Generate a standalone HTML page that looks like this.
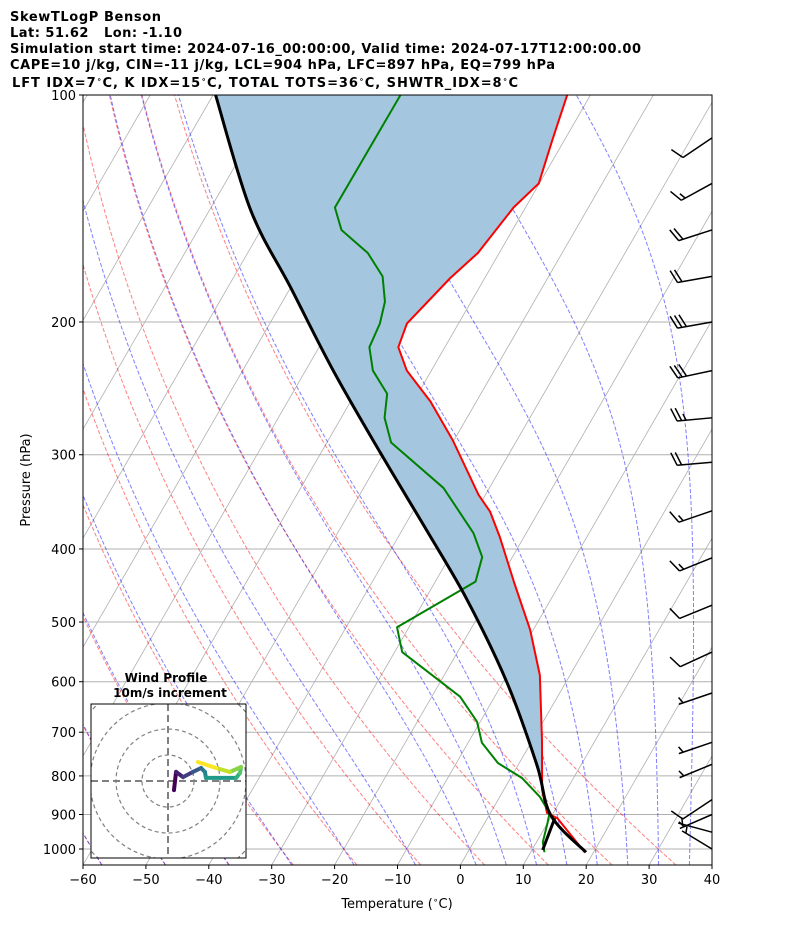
<!DOCTYPE html>
<html><head><meta charset="utf-8">
<style>
body{margin:0;background:#fff;}
svg{display:block;font-family:"DejaVu Sans","Liberation Sans",sans-serif;}
</style></head>
<body>
<svg id="chart" width="794" height="937" viewBox="0 0 794 937" xmlns="http://www.w3.org/2000/svg">
<defs>
<clipPath id="plotclip"><rect x="83" y="95" width="629" height="770"/></clipPath>
<clipPath id="hodoclip"><rect x="91" y="704" width="155" height="154"/></clipPath>
</defs>
<rect x="0" y="0" width="794" height="937" fill="#fff"/>
<g font-weight="bold" font-size="13" fill="#000">
<text x="10" y="21" textLength="151">SkewTLogP Benson</text>
<text x="10" y="37" textLength="172" xml:space="preserve">Lat: 51.62   Lon: -1.10</text>
<text x="10" y="53" textLength="631">Simulation start time: 2024-07-16_00:00:00, Valid time: 2024-07-17T12:00:00.00</text>
<text x="10" y="69" textLength="545">CAPE=10 j/kg, CIN=-11 j/kg, LCL=904 hPa, LFC=897 hPa, EQ=799 hPa</text>
<text x="12" y="87" textLength="506">LFT IDX=7<tspan font-size="8" dy="-5">∘</tspan><tspan dy="5">C, K IDX=15</tspan><tspan font-size="8" dy="-5">∘</tspan><tspan dy="5">C, TOTAL TOTS=36</tspan><tspan font-size="8" dy="-5">∘</tspan><tspan dy="5">C, SHWTR_IDX=8</tspan><tspan font-size="8" dy="-5">∘</tspan><tspan dy="5">C</tspan></text>
</g>
<g id="bg" clip-path="url(#plotclip)"></g>
<g id="fill" clip-path="url(#plotclip)"></g>
<g id="profiles" clip-path="url(#plotclip)"></g>
<g id="barbs"></g>
<rect x="83" y="95" width="629" height="770" fill="none" stroke="#000" stroke-width="1"/>
<g id="axes" font-size="13" fill="#000"></g>
<text x="0" y="0" transform="translate(30,480) rotate(-90)" text-anchor="middle" font-size="13">Pressure (hPa)</text>
<text x="397" y="908" text-anchor="middle" font-size="13">Temperature (<tspan font-size="9" dy="-5">∘</tspan><tspan dy="5">C)</tspan></text>
<g id="hodo">
<rect x="91" y="704" width="155" height="154" fill="#fff"/>
<text x="166" y="682" text-anchor="middle" font-size="12" font-weight="bold">Wind Profile</text>
<text x="170" y="697" text-anchor="middle" font-size="12" font-weight="bold">10m/s increment</text>
<g id="hodoinner" clip-path="url(#hodoclip)"></g>
<rect x="91" y="704" width="155" height="154" fill="none" stroke="#000" stroke-width="1"/>
</g>
</svg>
<script>
// ---- data ----
const tempP=[100,115,131,141,162,175,201,216,232,255,287,339,357,386,444,512,588,717,835,896,910,1010];
const tempT=[-53.7,-51.9,-50.1,-51.9,-53.4,-55.5,-58.2,-57.4,-53.9,-47.3,-40.2,-31.1,-27.7,-23.8,-17.3,-10.5,-4.8,1.5,6.1,9.0,11.1,18.6];
const dewP=[100,141,151,162,174,188,201,216,232,249,268,289,332,381,410,442,508,548,628,678,723,769,805,853,896,924,979,1010];
const dewT=[-80.2,-80.3,-77.2,-70.9,-66.4,-63.7,-62.5,-62.0,-59.3,-54.9,-53.1,-49.8,-37.3,-28.4,-24.8,-23.6,-31.9,-28.8,-15.5,-10.5,-7.8,-3.4,1.8,6.4,9.4,10.0,11.0,12.2];
const parcelP=[100,142,180,232,298,379,467,602,774,902,1010];
const parcelT=[-109.6,-93.5,-80.0,-65.6,-50.6,-35.9,-23.3,-9.3,3.0,9.8,18.8];
const lclP=[1003,910];
const lclT=[11.7,10.7];
const barbP=[114,131,151,174,200,232,268,307,356,411,475,548,621,722,772,860,900,950,1000];
const barbU=[8.3,13.1,19.0,19.7,29.5,29.3,24.9,19.9,14.2,13.9,9.3,9.1,4.7,4.7,4.6,8.3,4.6,4.8,4.3];
const barbV=[5.6,7.2,6.1,3.5,5.3,6.3,2.3,1.7,4.9,5.6,3.8,4.2,1.6,1.6,1.9,5.5,2.0,-1.3,-2.6];
const hodoU=[2.3,3.1,5.8,9.6,12.7,14.2,14.6,26.2,27.7,28.1,23.8,18.5,11.5];
const hodoV=[-3.5,3.5,1.5,3.5,5.0,3.5,1.2,1.2,3.1,5.4,3.5,5.0,7.3];
const xTicks=[-60,-50,-40,-30,-20,-10,0,10,20,30,40];
const pTicks=[100,200,300,400,500,600,700,800,900,1000];

// ---- axes ----
const X0=83,X1=712,Y0=95,Y1=865,TMIN=-60,TMAX=40;
const PXT=(X1-X0)/(TMAX-TMIN), SK=Math.tan(30*Math.PI/180), DEC=754;
const NS="http://www.w3.org/2000/svg";
function yP(p){return Y0+DEC*Math.log10(p/100);}
function xT(T,p){return X0+(T-TMIN)*PXT+(Y1-yP(p))*SK;}
function mk(tag,attrs,parent){const e=document.createElementNS(NS,tag);for(const k in attrs)e.setAttribute(k,attrs[k]);parent.appendChild(e);return e;}
function pathFrom(P,T){return P.map((p,i)=>(i?'L':'M')+xT(T[i],p).toFixed(2)+','+yP(p).toFixed(2)).join('');}
function smoothPath(P,T){const pts=P.map((p,i)=>[xT(T[i],p),yP(p)]);let d='M'+pts[0][0].toFixed(2)+','+pts[0][1].toFixed(2);
for(let i=0;i<pts.length-1;i++){const p0=pts[Math.max(i-1,0)],p1=pts[i],p2=pts[i+1],p3=pts[Math.min(i+2,pts.length-1)];
const c1=[p1[0]+(p2[0]-p0[0])/6,p1[1]+(p2[1]-p0[1])/6],c2=[p2[0]-(p3[0]-p1[0])/6,p2[1]-(p3[1]-p1[1])/6];
d+='C'+c1.map(v=>v.toFixed(2)).join(',')+' '+c2.map(v=>v.toFixed(2)).join(',')+' '+p2.map(v=>v.toFixed(2)).join(',');}return d;}

const bg=document.getElementById('bg');
pTicks.forEach(p=>{const l=mk('line',{x1:X0,x2:X1,y1:yP(p),y2:yP(p),stroke:'#b0b0b0','stroke-width':1},bg);

});
for(let T=-200;T<=40;T+=10){const l=mk('line',{x1:xT(T,1050),y1:yP(1050),x2:xT(T,100),y2:yP(100),stroke:'#b0b0b0','stroke-width':0.8},bg);

}
for(let t0=-90;t0<=30;t0+=10){const P=[],T=[];for(let p=1050;p>=100;p-=10){P.push(p);T.push((t0+273.15)*Math.pow(p/1000,0.2857)-273.15);}
const l=mk('path',{d:pathFrom(P,T),fill:'none',stroke:'rgba(255,0,0,0.5)','stroke-width':1,'stroke-dasharray':'4,2'},bg);

}
function dTdp(T,p){const Rd=287.04,Cp=1005.7,Lv=2.501e6,eps=0.622;const es=6.112*Math.exp(17.67*(T-273.15)/(T-29.65));const rs=eps*es/(p-es);
return (Rd*T+Lv*rs)/(p*(Cp+Lv*Lv*rs*eps/(Rd*T*T)));}
function moist(t0){const up=[],dn=[];let T=t0+273.15;for(let p=1000;p>=100;p-=5){up.push([p,T-273.15]);const k1=dTdp(T,p),k2=dTdp(T-2.5*k1,p-2.5);T-=5*k2;}
T=t0+273.15;for(let p=1000;p<=1050;p+=5){dn.unshift([p,T-273.15]);const k1=dTdp(T,p),k2=dTdp(T+2.5*k1,p+2.5);T+=5*k2;}
const all=dn.concat(up.slice(1));return [all.map(a=>a[0]),all.map(a=>a[1])];}
[-90,-80,-70,-60,-50,-40,-30,-20,-10,0,5,10,15,20,25,30,35].forEach(t0=>{const [P,T]=moist(t0);
const l=mk('path',{d:pathFrom(P,T),fill:'none',stroke:'rgba(0,0,255,0.5)','stroke-width':1,'stroke-dasharray':'4,2'},bg);

});

function interp(P,T,p){for(let i=0;i<P.length-1;i++){if(p>=P[i]&&p<=P[i+1]){const f=Math.log(p/P[i])/Math.log(P[i+1]/P[i]);return T[i]+f*(T[i+1]-T[i]);}}return T[T.length-1];}
const PC=800;
const fa=[];
tempP.forEach((p,i)=>{if(p<PC)fa.push([p,tempT[i]]);});
fa.push([PC,interp(tempP,tempT,PC)]);
const pp=[],pt=[];parcelP.forEach((p,i)=>{if(p<PC){pp.push(p);pt.push(parcelT[i]);}});pp.push(PC);pt.push(interp(parcelP,parcelT,PC));
const pathA='M'+fa.map(a=>xT(a[1],a[0]).toFixed(2)+','+yP(a[0]).toFixed(2)).join('L');
const tmpPath=document.createElementNS(NS,'path');tmpPath.setAttribute('d',smoothPath(pp,pt));
document.getElementById('chart').appendChild(tmpPath);
const len=tmpPath.getTotalLength();const samp=[];for(let s=len;s>=0;s-=3){const q=tmpPath.getPointAtLength(s);samp.push(q.x.toFixed(2)+','+q.y.toFixed(2));}
const q0=tmpPath.getPointAtLength(0);samp.push(q0.x.toFixed(2)+','+q0.y.toFixed(2));
tmpPath.remove();
const fillEl=mk('path',{d:pathA+'L'+samp.join('L')+'Z',fill:'rgb(164,199,223)',stroke:'none'},document.getElementById('fill'));



const pr=document.getElementById('profiles');
const tl=mk('path',{d:pathFrom(tempP,tempT),fill:'none',stroke:'#ff0000','stroke-width':2,'stroke-linejoin':'round'},pr);


const dl=mk('path',{d:pathFrom(dewP,dewT),fill:'none',stroke:'#008000','stroke-width':2,'stroke-linejoin':'round'},pr);


const pl=mk('path',{d:smoothPath(parcelP,parcelT),fill:'none',stroke:'#000','stroke-width':3,'stroke-linejoin':'round'},pr);


const ll=mk('path',{d:pathFrom(lclP,lclT),fill:'none',stroke:'#000','stroke-width':3},pr);



const bb=document.getElementById('barbs');
barbP.forEach((p,i)=>{const u=barbU[i],v=barbV[i];const s=Math.hypot(u,v);let dx=-u/s,dy=v/s;
const ox=X1,oy=yP(p),L=35;const tx=ox+dx*L,ty=oy+dy*L;
const a=Math.atan2(dy,dx)+68*Math.PI/180;const fx=Math.cos(a),fy=Math.sin(a);
let d='M'+ox+','+oy.toFixed(2)+'L'+tx.toFixed(2)+','+ty.toFixed(2);
const r=Math.round(s/5)*5;let n10=Math.floor(r/10),h=(r%10)>=5;let pos=0;
for(let k=0;k<n10;k++){const bx=tx-dx*pos,by=ty-dy*pos;d+='M'+bx.toFixed(2)+','+by.toFixed(2)+'l'+(fx*14).toFixed(2)+','+(fy*14).toFixed(2);pos+=4.5;}
if(h){if(n10===0)pos=4.5;const bx=tx-dx*pos,by=ty-dy*pos;d+='M'+bx.toFixed(2)+','+by.toFixed(2)+'l'+(fx*7).toFixed(2)+','+(fy*7).toFixed(2);}
const b=mk('path',{d:d,fill:'none',stroke:'#000','stroke-width':1.5},bb);

});

const ax=document.getElementById('axes');
xTicks.forEach(T=>{const x=X0+(T-TMIN)*PXT;mk('line',{x1:x,x2:x,y1:Y1,y2:Y1+4,stroke:'#000'},ax);
const t=mk('text',{x:x,y:Y1+19,'text-anchor':'middle'},ax);t.textContent=(T<0?'\u2212'+(-T):T);

});
pTicks.forEach(p=>{const y=yP(p);mk('line',{x1:X0-4,x2:X0,y1:y,y2:y,stroke:'#000'},ax);
const t=mk('text',{x:X0-7,y:y+5,'text-anchor':'end'},ax);t.textContent=p;

});

const hi=document.getElementById('hodoinner');const HX=168,HY=781,HS=2.6;
[10,20,30,40].forEach(r=>{const c=mk('circle',{cx:HX,cy:HY,r:r*HS,fill:'none',stroke:'#808080','stroke-width':1.2,'stroke-dasharray':'4,3'},hi);

});
mk('line',{x1:91,x2:246,y1:HY,y2:HY,stroke:'#808080','stroke-width':2,'stroke-dasharray':'7,4'},hi);
mk('line',{x1:HX,x2:HX,y1:704,y2:858,stroke:'#808080','stroke-width':2,'stroke-dasharray':'7,4'},hi);
const vir=[[68,1,84],[72,40,120],[62,73,137],[49,104,142],[38,130,142],[31,158,137],[53,183,121],[110,206,88],[181,222,43],[253,231,37]];
function vcol(f){const x=f*(vir.length-1),i=Math.min(Math.floor(x),vir.length-2),g=x-i;const c=vir[i].map((v,k)=>Math.round(v+(vir[i+1][k]-v)*g));return 'rgb('+c.join(',')+')';}
for(let i=0;i<hodoU.length-1;i++){const s=mk('line',{x1:HX+hodoU[i]*HS,y1:HY-hodoV[i]*HS,x2:HX+hodoU[i+1]*HS,y2:HY-hodoV[i+1]*HS,stroke:vcol(i/(hodoU.length-2)),'stroke-width':4,'stroke-linecap':'round'},hi);

}
</script>
</body></html>
